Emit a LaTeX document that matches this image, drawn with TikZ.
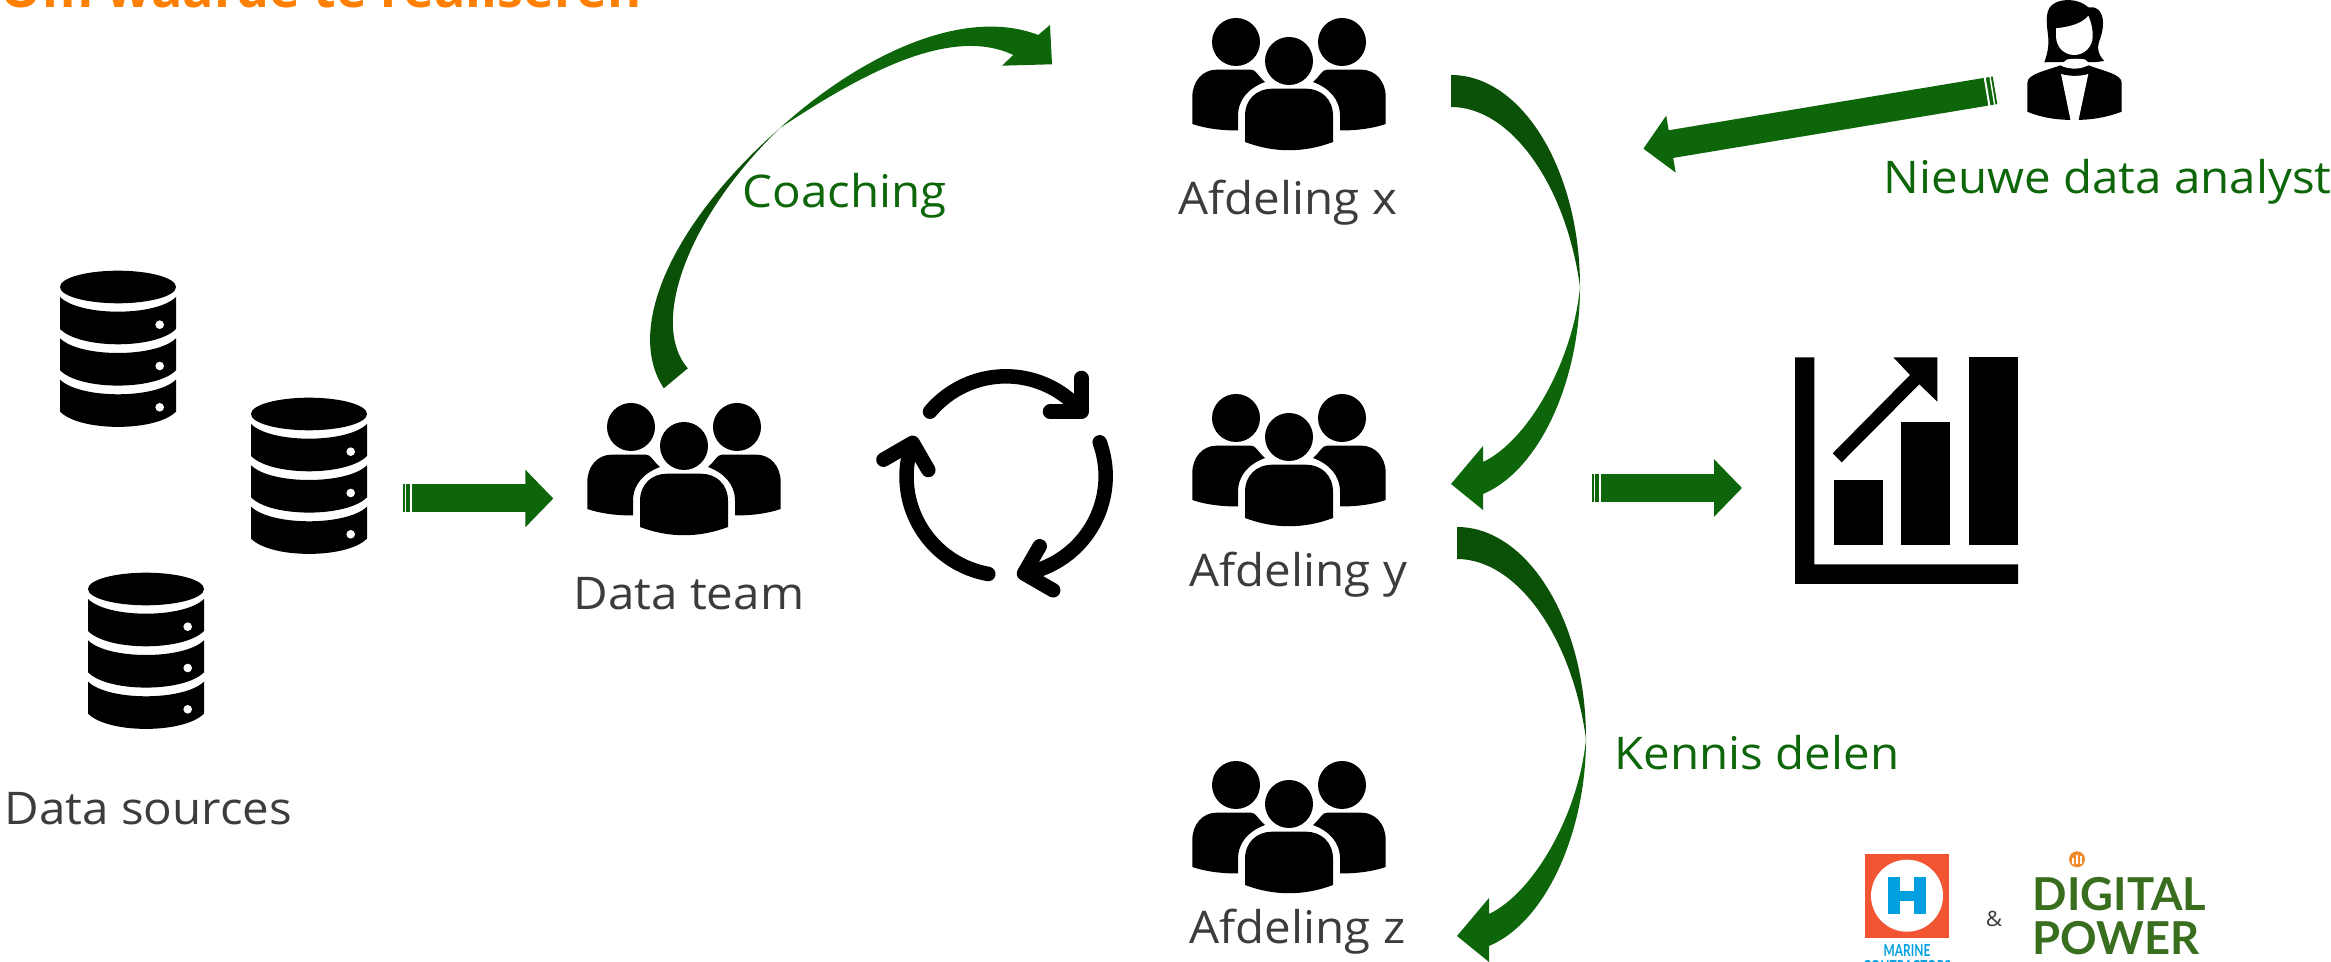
\documentclass[tikz,border=0pt]{standalone}
\usepackage{fontspec}
\setmainfont[FakeStretch=1.055]{Open Sans}
\newfontfamily\titlefont{Open Sans}
\newfontfamily\logofont{Lato}
\usepackage[dvipsnames]{xcolor}
\usepackage{tikz}
\usetikzlibrary{arrows.meta}

\definecolor{arrowdark}{HTML}{0A5006}
\definecolor{arrowgreen}{HTML}{0D660A}
\definecolor{labelgrey}{HTML}{3C3C3C}
\definecolor{titleorange}{HTML}{FF8000}
\definecolor{logored}{HTML}{F15533}
\definecolor{logoblue}{HTML}{00A0E0}
\definecolor{powergreen}{HTML}{386E1E}
\definecolor{powerorange}{HTML}{F08C2E}

\tikzset{
  greylabel/.style={anchor=base west, inner sep=0pt, text=labelgrey, font=\fontsize{12.8}{14}\selectfont},
  greenlabel/.style={anchor=base west, inner sep=0pt, text=arrowgreen, font=\fontsize{12.8}{14}\selectfont},
  powerlabel/.style={anchor=base west, inner sep=0pt, text=powergreen, font=\logofont\bfseries\fontsize{12.9}{14}\selectfont},
  marinelabel/.style={anchor=base, inner sep=0pt, text=logoblue, font=\logofont\bfseries\fontsize{4.7}{5}\selectfont},
  blockarrow/.style={draw=arrowgreen, line width=.28cm, -{Triangle[length=.28cm,width=.56cm]}},
  tailstripes/.style={draw=white, line width=.30cm, dash pattern=on 0cm off .02cm on .014cm off .037cm on .02cm off 10cm},
  looparc/.style={line width=.145cm, line cap=round, line join=round},
  people/.pic={
    \fill (0,0) circle[radius=24];
    \fill (-53,-19) circle[radius=24];
    \fill (53,-19) circle[radius=24];
    \foreach \side in {1,-1} {
      \fill[xscale=\side] (-96.7,63) -- (-96.7,36) .. controls (-96.7,20) and (-86,8.7) .. (-72.7,8.7)
        -- (-38,8.7) .. controls (-33,8.7) and (-32,14) .. (-24,21)
        .. controls (-40,27) and (-51,38) .. (-51,55) -- (-51,69.5)
        .. controls (-70,69.5) and (-85,67) .. (-96.7,63) -- cycle;
    }
    \fill (-44,81) -- (-44,55) .. controls (-44,38) and (-32,27.7) .. (-17,27.7) -- (17,27.7)
      .. controls (32,27.7) and (44,38) .. (44,55) -- (44,81)
      .. controls (15,92) and (-15,92) .. (-44,81) -- cycle;
  },
  database/.pic={
    \fill (0,0) ellipse[x radius=58, y radius=16.3];
    \foreach \k in {0,1,2} {
      \begin{scope}[shift={(0,\k*41.3)}]
        \fill (-58,10) .. controls (-38,29.6) and (38,29.6) .. (58,10) -- (58,42)
          .. controls (38,62.4) and (-38,62.4) .. (-58,42) -- cycle;
        \fill[white] (41.7,37.7) circle[radius=4.3];
      \end{scope}
    }
  },
  bendarrow/.pic={
    \fill[arrowdark] (0,0) .. controls (71,0) and (129,95) .. (129,212)
      .. controls (115,110) and (60,32) .. (0,32) -- cycle;
    \fill[arrowgreen] (129,212) .. controls (129,305) and (89,395) .. (32,419)
      -- (32,435) -- (0,409) -- (32,371) -- (32,387)
      .. controls (78,365) and (122,285) .. (129,212) -- cycle;
  }
}

\begin{document}
\begin{tikzpicture}[x=.01cm,y=-.01cm]
  \clip (0,0) rectangle (2331,962);

  % title, cut off by the top edge
  \draw (0,8) node[anchor=base west, inner sep=0pt, text=titleorange, font=\titlefont\fontsize{14.8}{16}\selectfont\bfseries] (title) {Om waarde te realiseren};

  % sources
  \pic at (118,287) {database};
  \pic at (309,414) {database};
  \pic at (146,589) {database};
  \draw (4,825) node[greylabel] (sources) {Data sources};

  % teams
  \pic at (684,446) {people};
  \pic at (1289,61) {people};
  \pic at (1289,437) {people};
  \pic at (1289,804) {people};
  \draw (573,610) node[greylabel] (team) {Data team};
  \draw (1178,215) node[greylabel] (afdx) {Afdeling x};
  \draw (1189,587) node[greylabel] (afdy) {Afdeling y};
  \draw (1189,943) node[greylabel] (afdz) {Afdeling z};

  % straight arrows
  \coordinate (srctail) at (403,498.5);
  \coordinate (srctip) at (553.3,498.5);
  \coordinate (charttail) at (1592,488);
  \coordinate (charttip) at (1742,488);
  \coordinate (analysttail) at (1995,90.3);
  \coordinate (analysttip) at (1643.3,148.7);
  \foreach \from/\to in {srctail/srctip, charttail/charttip, analysttail/analysttip} {
    \draw[blockarrow] (\from) -- (\to);
    \draw[tailstripes] (\from) -- (\to);
  }

  % curved arrows
  \pic at (1451,75) {bendarrow};
  \pic at (1457,527) {bendarrow};
  \fill[arrowdark] (663.8,388.3) .. controls (625,330) and (670,225) .. (780,128)
    .. controls (685,220) and (650,325) .. (687.8,368.3) -- cycle;
  \fill[arrowgreen] (780,128) .. controls (855,60) and (960,5) .. (1038.3,35) -- (1050,25)
    -- (1052,64.3) -- (1002,65.7) -- (1013.3,55) .. controls (950,25) and (860,75) .. (780,128) -- cycle;
  \draw (742,208) node[greenlabel] (coaching) {Coaching};
  \draw (1614,770) node[greenlabel] (kennis) {Kennis delen};
  \draw (1883,194) node[greenlabel] (analyst) {Nieuwe data analyst};

  % loop
  \foreach \turn in {0,-120,-240} {
    \begin{scope}[shift={(1006,476)}, rotate=\turn]
      \draw[looparc] (-76,-64.3) arc[start angle=220, end angle=319.5, radius=99];
      \draw[looparc] (75.4,-98) -- (75.4,-64.3) -- (44,-64.3);
    \end{scope}
  }

  % chart
  \fill (1795,357.3) -- (1814.3,357.3) -- (1814.3,564.3) -- (2018,564.3) -- (2018,584) -- (1795,584) -- cycle;
  \fill (1834,480) rectangle (1883,544.7);
  \fill (1901,421.7) rectangle (1950,544.7);
  \fill (1969,357.3) rectangle (2018,544.7);
  \fill (1832.7,453.3) -- (1910,375) -- (1893.3,357.3) -- (1937.3,357.3) -- (1937.3,401.7) -- (1919.3,384.3) -- (1841.7,462.3) -- cycle;

  % analyst
  \fill (2044.3,62.3) .. controls (2048,52) and (2049,45) .. (2048,35) .. controls (2046,20) and (2045,8) .. (2055,3)
    .. controls (2062,-1) and (2078,-2) .. (2088.3,7.3) .. controls (2095,6) and (2103,10) .. (2103,23)
    .. controls (2103,35) and (2098,42) .. (2098,47) .. controls (2098,53) and (2101,58) .. (2104.3,61)
    .. controls (2098,62) and (2092,62.5) .. (2088,62) -- (2062,62) -- cycle;
  \fill[white] (2056,28.3) .. controls (2070,27) and (2083,23) .. (2088.3,15.7) .. controls (2091,22) and (2092.7,28) .. (2092.7,36)
    .. controls (2092.7,47) and (2084,55) .. (2074.3,55) .. controls (2064,55) and (2056,47) .. (2056,36) -- cycle;
  \fill (2027.3,111.7) -- (2027.3,83) .. controls (2027.3,74) and (2045,71) .. (2060,65.5) -- (2089,65.5)
    .. controls (2103,71) and (2121.7,74) .. (2121.7,83) -- (2121.7,111.7)
    .. controls (2105,118) and (2090,120) .. (2074.3,120) .. controls (2058,120) and (2042,118) .. (2027.3,111.7) -- cycle;
  \fill[white] (2060,65) -- (2067,59.5) .. controls (2072,58.5) and (2080,58.5) .. (2085,59.5) -- (2090,64)
    .. controls (2082,70) and (2068,70) .. (2060,65) -- cycle;
  \fill[white] (2061,74) .. controls (2070,76.5) and (2080,76.5) .. (2088.3,74) -- (2078.3,121) -- (2070.7,121) -- cycle;

  % logos
  \fill[logored] (1864.7,854) rectangle (1949.3,937.7);
  \fill[white] (1907,895.7) circle[radius=36];
  \fill[logoblue] (1888.3,877.3) rectangle (1900,914.3);
  \fill[logoblue] (1914,877.3) rectangle (1925.7,914.3);
  \fill[logoblue] (1900,890.7) rectangle (1914,901);
  \draw (1907,956) node[marinelabel] (marine) {\scalebox{.72}[1]{MARINE}};
  \draw (1907,972) node[marinelabel] (contractors) {\scalebox{.72}[1]{CONTRACTORS}};
  \draw (1994,926) node[anchor=base, inner sep=0pt, text=labelgrey, font=\fontsize{6}{7}\selectfont] (amp) {\&};
  \fill[powerorange] (2077,859.3) circle[radius=8];
  \draw[white, line width=.015cm] (2073,864) -- (2073,858) (2077,864) -- (2077,855) (2081,864) -- (2081,856);
  \draw (2032,910.7) node[powerlabel] (digital) {DIGITAL};
  \draw (2032,954.3) node[powerlabel] (power) {POWER};
\end{tikzpicture}
\end{document}
